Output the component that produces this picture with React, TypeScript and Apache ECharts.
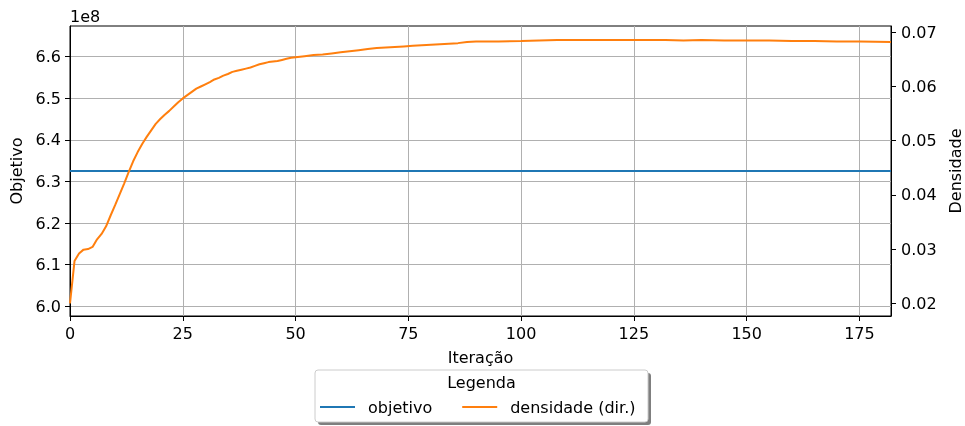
import React, { useEffect, useRef } from "react";
import * as echarts from "echarts";

// Iterações (eixo x) e densidade (eixo direito)
const iteracoes = [
  0, 1, 2, 3, 4, 5, 6, 7, 8, 9, 10, 11, 12, 13, 14, 15, 16, 17, 18, 19, 20,
  21, 22, 23, 24, 25, 26, 27, 28, 29, 30, 31, 32, 33, 34, 35, 36, 37, 38, 39,
  40, 41, 42, 43, 44, 45, 46, 47, 48, 49, 50, 52, 54, 56, 58, 60, 62, 64, 66,
  68, 70, 72, 74, 76, 78, 80, 82, 84, 86, 88, 90, 95, 100, 104, 108, 112, 116,
  120, 125, 128, 132, 136, 140, 145, 150, 155, 160, 165, 170, 175, 182,
];
const densidade = [
  0.02, 0.0278, 0.0292, 0.0299, 0.03, 0.0304, 0.0318, 0.0328, 0.0342, 0.0362,
  0.0381, 0.0401, 0.0421, 0.0442, 0.0462, 0.0479, 0.0494, 0.0507, 0.0519,
  0.0531, 0.054, 0.0548, 0.0555, 0.0563, 0.0571, 0.0578, 0.0584, 0.059,
  0.0596, 0.06, 0.0604, 0.0608, 0.0613, 0.0616, 0.062, 0.0623, 0.0627, 0.0629,
  0.0631, 0.0633, 0.0635, 0.0638, 0.0641, 0.0643, 0.0645, 0.0646, 0.0647,
  0.0649, 0.0651, 0.0653, 0.0654, 0.0656, 0.0658, 0.0659, 0.0661, 0.0663,
  0.0665, 0.0667, 0.0669, 0.0671, 0.0672, 0.0673, 0.0674, 0.0675, 0.0676,
  0.0677, 0.0678, 0.0679, 0.068, 0.0682, 0.0683, 0.0683, 0.0684, 0.0685,
  0.0686, 0.0686, 0.0686, 0.0686, 0.0686, 0.0686, 0.0686, 0.0685, 0.0686,
  0.0685, 0.0685, 0.0685, 0.0684, 0.0684, 0.0683, 0.0683, 0.0682,
];

// Objetivo (eixo esquerdo)
const objetivoIter = [0, 182];
const objetivo = [632500000, 632500000];

// Rótulos dos eixos
const xTicks = [0, 25, 50, 75, 100, 125, 150, 175];
const yLeftTicks = [6.0e8, 6.1e8, 6.2e8, 6.3e8, 6.4e8, 6.5e8, 6.6e8];
const yRightTicks = [0.02, 0.03, 0.04, 0.05, 0.06, 0.07];

const FONT = "DejaVu Sans";

export default function App() {
  const ref = useRef<HTMLDivElement>(null);

  useEffect(() => {
    if (!ref.current) return;
    const chart = echarts.init(ref.current, undefined, { renderer: "svg" });
    const tickStyle = { color: "#000", fontSize: 16, fontFamily: FONT };
    chart.setOption({
      animation: false,
      textStyle: { fontFamily: FONT },
      grid: {
        left: 70,
        right: 74,
        top: 26,
        bottom: 110,
        containLabel: false,
        outerBoundsMode: "none",
        show: true,
        borderColor: "#000",
        borderWidth: 1,
        backgroundColor: "transparent",
      },
      xAxis: {
        type: "value",
        min: 0,
        max: 182,
        interval: 25,
        name: "Iteração",
        nameLocation: "middle",
        nameGap: 33,
        nameTextStyle: { color: "#000", fontSize: 16, fontFamily: FONT },
        axisLine: { show: true, lineStyle: { color: "#000", width: 1 } },
        axisTick: {
          show: true,
          inside: false,
          length: 5,
          lineStyle: { color: "#000" },
          customValues: xTicks,
        },
        axisLabel: {
          ...tickStyle,
          margin: 9,
          customValues: xTicks,
        },
        splitLine: { show: true, lineStyle: { color: "#b0b0b0", width: 1 } },
      },
      yAxis: [
        {
          type: "value",
          min: 597670000,
          max: 667380000,
          interval: 1e7,
          name: "Objetivo",
          nameLocation: "middle",
          nameRotate: 90,
          nameGap: 44,
          nameTextStyle: { color: "#000", fontSize: 16, fontFamily: FONT },
          axisLine: { show: true, lineStyle: { color: "#000", width: 1 } },
          axisTick: {
            show: true,
            inside: false,
            length: 5,
            lineStyle: { color: "#000" },
            customValues: yLeftTicks,
          },
          axisLabel: {
            ...tickStyle,
            margin: 9,
            customValues: yLeftTicks,
            formatter: (v: number) => (v / 1e8).toFixed(1),
          },
          splitLine: { show: true, lineStyle: { color: "#b0b0b0", width: 1 } },
        },
        {
          type: "value",
          min: 0.017657,
          max: 0.07116,
          interval: 0.01,
          position: "right",
          name: "Densidade",
          nameLocation: "middle",
          nameRotate: 90,
          nameGap: 56,
          nameTextStyle: {
            color: "#000",
            fontSize: 16,
            fontFamily: FONT,
          },
          axisLine: { show: true, lineStyle: { color: "#000", width: 1 } },
          axisTick: {
            show: true,
            inside: false,
            length: 5,
            lineStyle: { color: "#000" },
            customValues: yRightTicks,
          },
          axisLabel: {
            ...tickStyle,
            margin: 10,
            customValues: yRightTicks,
            formatter: (v: number) => v.toFixed(2),
          },
          splitLine: { show: false },
        },
      ],
      legend: {
        data: ["objetivo", "densidade (dir.)"],
        left: 320,
        top: 399,
        padding: 0,
        icon: "rect",
        itemWidth: 35,
        itemHeight: 2,
        itemGap: 30,
        textStyle: {
          color: "#000",
          fontSize: 16,
          fontFamily: FONT,
          padding: [0, 0, 0, 8],
        },
        z: 10,
      },
      graphic: [
        {
          type: "rect",
          z: 1,
          shape: { x: 318, y: 373, width: 333, height: 52, r: 3 },
          style: { fill: "#7f7f7f" },
        },
        {
          type: "rect",
          z: 2,
          shape: { x: 315, y: 370, width: 333, height: 52, r: 3 },
          style: { fill: "#fff", stroke: "#cccccc", lineWidth: 1 },
        },
        {
          type: "text",
          z: 3,
          x: 481.5,
          y: 382,
          style: {
            text: "Legenda",
            fill: "#000",
            fontSize: 16,
            fontFamily: FONT,
            align: "center",
            verticalAlign: "middle",
          },
        },
        {
          type: "text",
          z: 3,
          x: 70,
          y: 16,
          style: {
            text: "1e8",
            fill: "#000",
            fontSize: 16,
            fontFamily: FONT,
            align: "left",
            verticalAlign: "middle",
          },
        },
      ],
      series: [
        {
          name: "objetivo",
          type: "line",
          yAxisIndex: 0,
          symbol: "none",
          lineStyle: { color: "#1f77b4", width: 2 },
          itemStyle: { color: "#1f77b4" },
          data: objetivoIter.map((x, i) => [x, objetivo[i]]),
        },
        {
          name: "densidade (dir.)",
          type: "line",
          yAxisIndex: 1,
          symbol: "none",
          lineStyle: { color: "#ff7f0e", width: 2 },
          itemStyle: { color: "#ff7f0e" },
          data: iteracoes.map((x, i) => [x, densidade[i]]),
        },
      ],
    });
    return () => chart.dispose();
  }, []);

  return (
    <div
      ref={ref}
      style={{ position: "fixed", left: 0, top: 0, width: 965, height: 426 }}
    />
  );
}
